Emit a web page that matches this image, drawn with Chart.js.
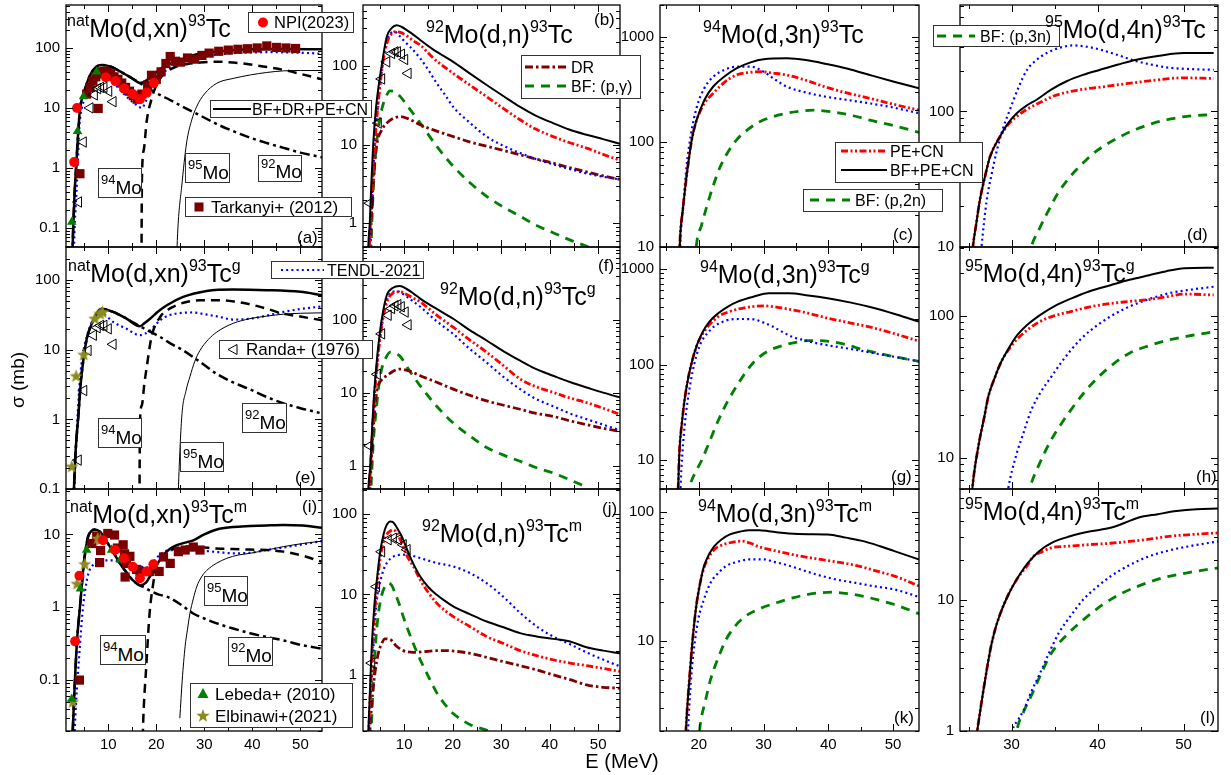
<!DOCTYPE html>
<html><head><meta charset="utf-8">
<script src="https://cdn.jsdelivr.net/npm/chart.js@4.4.1/dist/chart.umd.min.js"></script>
<style>
html,body{margin:0;padding:0;background:#fff;}
#wrap{position:relative;width:1231px;height:775px;overflow:hidden;background:#fff;}
.t{position:absolute;white-space:nowrap;line-height:1;font-family:"Liberation Sans",Arial,sans-serif;color:#000;}
.s{position:relative;}
.bx{position:absolute;box-sizing:border-box;border:1.5px solid #333;background:#fff;}
svg.m{position:absolute;overflow:visible;left:0;top:0;}
</style></head><body><div id="wrap"></div>
<script>
// ---------------- DATA (E in MeV, sigma in mb) ----------------
// (a) natMo(d,xn)93Tc
const a_E_tot=[2.5,2.7,3.0,3.3,3.7,4.1,4.6,5.1,6.2,7.6,8.6,10.4,13.1,15.0,16.6,18.0,20.1,22.2,24.2,27.7,32.6,39.6,46.5,54.5];
const a_tot=[0.03,0.1,0.4,1.0,3.5,9.5,15,20,35,49,52,49,38,31,26,29,40,52,59,76,87,95,96,95];
const a_E_94=[16.9,17.0,17.4,18.0,19.0,20.0,20.8,22.2,24.2,26.5,29.1,32.6,36,39.6,43,46.5,50,54.5];
const a_94=[0.01,0.6,2,6,14,24,31,40,49,54,57,59,57,53,48,43,37,30];
const a_E_92=[2.5,2.7,3.0,3.3,3.7,4.1,4.6,5.1,6.2,7.6,8.6,10.4,13.1,15.0,16.6,18,20.1,22.2,25,29.1,33,36,40,43,47,50,54.5];
const a_92=[0.03,0.1,0.4,1.0,3.5,9.5,15,20,35,49,52,49,38,31,26,22,17.5,14.5,11,7.5,5.2,4.1,3.1,2.6,2.1,1.8,1.5];
const a_E_95=[24.0,24.5,25.3,26.3,27.3,28.4,30,32.6,36,39.6,43,46.5,50,54.5];
const a_95=[0.01,0.1,0.5,2.6,6,10.5,17,25.8,31,35.5,39,41.5,42,42];
const a_E_ten=[2.8,3.0,3.5,4.0,4.5,5.2,6,7,8.5,10,12,14,16,17,18,19,20,22,24,26,28,30,33,36,40,44,48,52,54.5];
const a_ten=[0.03,0.1,0.6,5,10,15,22,32,38,33,22,15,11,10,14,22,30,42,52,60,67,72,78,82,84,85,84,82,80];
const a_npi_E=[2.9,3.5,9.5,11.5,13.3,15.1,16.6,18.0,19.5];
const a_npi=[1.25,10,32.5,28,21,17,14,18,26];
const a_tar_E=[4.1,5.5,6.2,6.8,7.4,7.9,8.0,8.6,9.2,9.8,10.5,11.2,12.0,12.8,13.6,14.4,15.2,16.0,17.0,18.2,19.0,20.0,21.0,22.0,22.9,24.0,25.0,26.5,28.0,29.5,31.0,33.0,35.0,37.0,39.0,41.0,43.0,45.0,47.0,49.0];
const a_tar=[0.8,17,22,28,33,9.8,37,40,41,39,37,33,30,26,22,19,16,14,17,24,35,30,40,55,72,60,58,68,65,75,82,88,92,95,97,100,108,102,100,98];
const a_ran_E=[3.8,4.8,6.2,7.1,7.8,8.4,9.1,10.1,11.0];
const a_ran=[0.27,2.7,10,16.5,21,22,22,19,12.7];
const a_leb_E=[2.4,3.6,4.85,7.6];
const a_leb=[0.125,4.1,15.5,40];

// (b) 92Mo(d,n)93Tc
const b_E_tot=[2.4,2.6,2.9,3.2,3.6,4.2,4.8,5.35,6.4,7.4,8.45,9.5,10.5,12,13.3,16,20.1,23.5,27,30.5,33.9,37,40.7,44,47.6,51,54.5];
const b_tot=[0.1,0.5,1,3,10,30,60,100,233,300,327,310,283,245,212,160,112,80,57,41,30,23.5,18.7,15.5,13.3,11.7,10.2];
const b_E_pe=[2.5,2.8,3.2,3.7,4.3,5,5.7,6.5,7.3,8.1,9.2,10.5,12,13.3,16,20.1,23.5,27,30.5,33.9,37,40.7,44,47.6,51,54.5];
const b_pe=[0.1,0.5,1.5,6,20,55,120,200,250,270,265,240,205,183,125,80,57,40.5,28.5,20.6,15.8,12.6,10.6,9,7.5,6.3];
const b_E_ten=[2.5,2.8,3.2,3.7,4.3,5,5.7,6.5,7.3,8.0,9.0,10,11.2,13.3,15,16.7,18.5,20.1,23.5,27,30.5,33.9,37,40.7,44,47.6,51,54.5];
const b_ten=[0.1,0.5,1.5,6,20,55,120,210,260,270,240,205,174,124,88,60,42,30,19,12.6,9.6,7.8,6.6,5.6,4.9,4.3,3.9,3.6];
const b_E_dr=[2.7,3.0,3.5,4.3,5.3,6.4,7.8,9.2,11,13.3,16.7,20.1,23.5,27,30.5,33.9,37,40.7,44,47.6,51,54.5];
const b_dr=[0.1,0.5,2.5,9.5,15,18.7,21.5,22.6,21,17.8,14.8,12.6,10.8,9.5,8.4,7.4,6.6,5.8,5.1,4.5,4.0,3.6];
const b_E_bf=[2.8,3.2,3.6,4.0,4.6,5.35,6.2,7.1,8.0,9.2,11,13.3,16.7,20.1,23.5,27,30.5,33.9,37,40.7,44,47.6,51];
const b_bf=[0.1,0.6,2.5,6.4,15,27.6,40,48,47,40.5,29,18.7,9.5,5.3,3.3,2.2,1.6,1.23,0.96,0.76,0.62,0.51,0.42];
const b_ran_E=[2.9,4.65,5.35,6.4,7.4,8.1,8.6,9.45,10.1,10.8];
const b_ran=[1.8,18.7,68,112,143,150,150,140,120,80];

// (c) 94Mo(d,3n)93Tc
const c_E_tot=[16.9,17.1,17.5,17.9,18.4,18.9,19.5,20.2,21,22.2,24,25.8,28,30,33.6,36.5,39.7,43,46.4,50,54];
const c_tot=[5,12,22,37,65,104,150,200,260,334,420,500,570,610,622,600,550,495,432,375,323];
const c_E_pe=[16.9,17.1,17.5,17.9,18.4,18.9,19.5,20.2,21,22.2,24,25.8,27.5,29.4,31.5,33.6,36.5,39.7,43,46.4,50,54];
const c_pe=[5,12,22,37,65,104,150,195,240,289,370,432,455,464,450,432,385,330,290,259,228,200];
const c_E_ten=[16.9,17.1,17.6,18.1,18.8,19.7,20.8,22.2,24,25.8,28.1,30,31.8,33.6,36.5,39.7,43,46.4,50,54];
const c_ten=[4,10,25,58,120,216,320,415,485,518,518,464,390,334,295,268,250,232,212,187];
const c_E_bf=[19.3,19.6,20.4,21.2,22.2,23.3,24.5,25.8,27.5,29.4,31.5,33.6,35.7,37.7,41.3,44,46.4,50,54];
const c_bf=[5,10,16,24,38,58,80,104,130,155,174,187,196,200,190,176,161,143,123];

// (d) 95Mo(d,4n)93Tc
const d_E_tot=[25.3,25.5,25.9,26.3,26.9,27.5,28.65,29.6,30.6,31.7,32.9,34.6,36.4,38.3,40.3,42.4,44.5,47.2,50,53.5];
const d_tot=[7,10,15,22,33,46.5,65.3,82,97,110,122,145,167,186,203,222,241,258,270,270];
const d_E_pe=[25.3,25.5,25.9,26.3,26.9,27.5,28.65,29.6,30.6,31.8,32.9,34.9,36.8,38.7,40.6,42.6,46,50,53.5];
const d_pe=[7,10,15,22,33,46.5,65,80,92,104,113,130,140,147,152,158,168,177,175];
const d_E_ten=[26.2,26.5,27.1,27.7,28.3,29.0,29.8,30.8,31.8,32.9,34.1,35.6,37.2,38.8,40.3,42.4,44.5,46.5,48.4,51,53.5];
const d_ten=[6,10,22,35,52,75,103,150,203,240,270,295,307,300,286,260,235,220,210,205,203];
const d_E_bf=[32.0,32.3,33.2,34.1,35.4,36.8,38.2,39.5,41,42.6,44.5,46.5,48.5,50.4,53.5];
const d_bf=[8,10,13.5,17.6,25,33,41,49,57,65,74,82,88,92,95];

// (e) natMo(d,xn)93Tcg
const e_E_tot=[2.6,2.85,3.2,3.75,4.3,4.8,5.3,5.8,6.9,8.6,11,13.8,16.6,17.5,18.7,20.5,22.2,25.6,30.5,36,43,50,54.5];
const e_tot=[0.03,0.1,0.35,1.08,3.5,7,12,17,26.6,39,35,28,21.8,24,28,36,43.7,57.5,70,73.5,72,68,61];
const e_E_94=[16.45,16.6,17.0,17.5,18,19,20.8,22.5,24.2,26.5,29.1,33.3,36.5,39.5,43,46.5,50,54.5];
const e_94=[0.01,0.9,1.6,3.2,5.6,15.3,29.6,38,43.7,49,51.5,51.5,49,45,39,33,30,26.6];
const e_E_92=[2.6,2.85,3.2,3.75,4.3,4.8,5.3,5.8,6.9,8.6,11,13.8,16.6,18.7,20.8,23,25.6,29.1,32.6,36,39.5,43,46.5,50,54];
const e_92=[0.03,0.1,0.35,1.08,3.5,7,12,17,26.6,39,35,28,21.8,18.2,15.3,12.3,9.8,6.7,4.5,3.4,2.7,2.1,1.7,1.45,1.24];
const e_E_95=[24.2,24.6,25.3,26.2,27,28,29.1,30.8,32.6,36,39.5,43,46.5,50,54.5];
const e_95=[0.01,0.1,1.08,2.6,4.1,6.8,9.8,14,18,24,28,30.5,32.5,33.5,34];
const e_E_ten=[2.8,3.1,3.5,4.0,4.5,5.0,5.8,6.8,8.3,9.5,11,13.8,16.6,18.7,20.8,22.5,24.2,27.7,30,32.6,36,39.5,43,46.5,50,54.5];
const e_ten=[0.05,0.2,0.8,3,7,11,18,27,35,31,25.2,20,16.2,19,26.6,31,33.2,34.4,32.5,30.3,27.2,28,31,35,38.5,42];
const e_elb_E=[2.4,3.3,4.9,7.2,8.3,8.8];
const e_elb=[0.21,4.2,8.5,28,33,35];
const e_ran_E=[3.75,4.9,5.8,6.9,7.7,8.4,9.1,10.0,11.0];
const e_ran=[0.26,2.6,9.8,16.2,20.8,22.4,22.4,20,12];

// (f) 92Mo(d,n)93Tcg
const f_E_tot=[2.4,2.6,3.0,3.4,3.8,4.4,4.9,5.35,6.4,7.6,9.1,10.5,12,13.3,16.7,20.1,23.5,27,30.5,33.9,37,40.7,44,47.6,51,54.5];
const f_tot=[0.2,0.5,1,3.5,10,30,60,100,215,270,287,262,225,194,140,103,72,52,37,27.6,21.5,17.2,14.2,11.9,10.1,8.7];
const f_E_pe=[2.5,2.8,3.2,3.7,4.3,5.0,5.7,6.5,7.5,8.5,9.1,10.5,12,13.3,16.7,20.1,23.5,27,30.5,33.9,37,40.7,44,47.6,51,54.5];
const f_pe=[0.2,0.5,1.5,6,20,55,110,180,225,240,240,220,195,175,115,79,53,36,23.5,15.5,12.3,10.2,8.6,7.4,6.2,5.1];
const f_E_ten=[2.5,2.8,3.2,3.7,4.3,5.0,5.7,6.5,7.4,8.4,9.5,11,13.3,16.7,20.1,23.5,27,30.5,33.9,37,40.7,44,47.6,51,54.5];
const f_ten=[0.2,0.5,1.5,6,20,55,115,190,235,245,230,195,150,95,64,40,26,16.5,11.3,8.4,6.6,5.3,4.4,3.7,3.1];
const f_E_dr=[2.7,3.0,3.5,4.3,5.3,6.4,7.8,9.1,11,13.3,16.7,20.1,23.5,27,30.5,33.9,37,40.7,44,47.6,51,54.5];
const f_dr=[0.2,0.6,2.5,10,15,17.2,20,21.2,20,17.2,14,11.3,9.3,7.8,6.8,6.0,5.3,4.8,4.2,3.7,3.3,3.0];
const f_E_bf=[2.8,3.2,3.6,4.3,4.8,5.35,6.2,7.1,8.0,9.1,11,13.3,16.7,20.1,23.5,27,30.5,33.9,37,40.7,44,47.6];
const f_bf=[0.2,0.6,2,6.6,13,21.2,30,36,35,32,20.5,12.5,6.6,3.9,2.6,1.8,1.42,1.17,0.97,0.81,0.66,0.52];
const f_ran_E=[2.9,4.45,5.35,6.7,7.4,8.1,8.7,9.4,10.2,10.8];
const f_ran=[1.9,18,64,115,142,155,160,150,127,85];

// (g) 94Mo(d,3n)93Tcg
const g_E_tot=[16.8,17.0,17.4,17.8,18.4,19,19.7,20.5,21.6,23,24.5,26,28.5,30.8,33.9,36.9,39.9,43.5,47.2,50.5,54];
const g_tot=[5,12.4,25,43,75,112,160,213,280,345,405,456,515,557,557,530,495,445,389,335,282];
const g_E_pe=[16.8,17.0,17.4,17.8,18.4,19,19.7,20.5,21.6,23,24.5,26,28,30.2,32,33.9,36.9,39.9,43.5,47.2,50.5,54];
const g_pe=[5,12.4,25,43,75,112,160,205,260,318,355,380,403,411,400,380,345,306,272,240,208,176];
const g_E_ten=[17.1,17.3,17.8,18.7,19.9,21.8,24.2,26.3,28.4,30,31.4,32.9,34.5,36.3,38.1,41,44.2,47.5,51,54];
const g_ten=[4,8,22.6,64,143,231,289,300,298,275,250,220,194,180,168,155,143,130,118,108];
const g_E_bf=[18.4,18.7,19.5,20.5,21.7,23,24.5,26,27.5,29,31,33.3,35,36.9,38.7,40.5,43,45.4,49,54];
const g_bf=[4,5.5,7.5,10.2,16,26,42,62,88,115,142,161,171,178,178,174,160,143,126,108];

// (h) 95Mo(d,4n)93Tcg
const h_E_tot=[25.2,25.5,26.2,26.8,27.3,28,28.7,29.6,30.5,31.8,33.3,35,36.9,39,41.5,43.7,46,48,50.1,53.5];
const h_tot=[4,6.6,12.6,19,27,36,46,58,71,86,101,117,132,148,164,179,193,206,216,218];
const h_E_pe=[25.2,25.5,26.2,26.8,27.3,28,28.7,29.6,30.5,31.8,33.3,35,36.9,39,41.5,43.7,46,48,50.1,53.5];
const h_pe=[4,6.6,12.6,19,27,36,46,57,67,79,91,100,107,115,122,126,130,136,142,140];
const h_E_ten=[29.2,29.6,30.5,31.4,32.3,33.4,34.6,35.8,36.9,38,39.2,41.4,43.7,46,48.3,51,53.5];
const h_ten=[4,6,10.2,15,21.7,29,37,47,57.3,68,79,98,116,131,144,153,160];
const h_E_bf=[31.5,32.1,33.3,34.6,35.8,36.9,38.5,40.1,41.9,43.7,46,48.3,50.9,53.5];
const h_bf=[4,6,9.2,13.3,17.4,21.7,29,37,46,54.4,61.5,67.5,72.5,77];

// (i) natMo(d,xn)93Tcm
const i_E_tot=[2.6,3.06,3.5,4.1,4.5,4.9,5.3,5.8,6.4,7.2,8.3,9.3,10.35,11.4,12.4,13.5,14.5,15.6,16.6,17.9,18.6,19.4,20.4,21.5,22.8,24.25,26,27.7,30,32.6,36,39.5,43,46.5,50.5,54.5];
const i_tot=[0.02,0.1,0.35,1.0,2.0,4,6.2,9.3,11,11.7,10.8,8.6,6.8,5.2,4,3.2,2.6,2.2,2.0,2.2,2.6,3.1,4.1,5.2,6.3,7.1,7.7,8.3,10,11.7,12.6,13,13.3,13.5,13.2,12.3];
const i_E_94=[17.1,17.3,17.9,18.6,19.3,20,21,22.2,24,26.3,29,32.6,36,39.5,43,46.5,50.5,54.5];
const i_94=[0.01,0.03,0.15,0.82,2,3.6,4.8,5.8,6.4,6.8,6.7,6.4,6.3,6.2,6.1,5.8,5.1,4.2];
const i_E_92=[2.6,3.06,3.5,4.1,4.5,4.9,5.3,5.8,6.4,7.2,8.3,9.3,10.35,11.4,12.4,13.5,14.5,15.6,16.6,17.6,18.6,20.4,22.2,25,27.7,30,32.6,36,39.5,43,46.5,50.5,54.5];
const i_92=[0.02,0.1,0.35,1.0,2.0,4,6.2,9.3,11,11.7,10.8,8.6,6.8,5.2,4,3.2,2.6,2.2,2.0,1.85,1.7,1.5,1.4,1.1,0.82,0.7,0.6,0.51,0.44,0.39,0.35,0.3,0.27];
const i_E_95=[24.9,25.4,26.0,26.5,27.0,27.7,28.4,29.4,30.5,32.5,34.7,37,39.5,43,46.5,50.5,54.5];
const i_95=[0.03,0.1,0.29,0.5,0.82,1.3,1.9,2.6,3.2,4.0,4.7,5.2,5.5,6.1,6.8,7.5,8.1];
const i_E_ten=[3.0,3.3,3.6,4.1,4.6,5.1,5.8,6.8,8.4,11,13,15.1,17,18,19,20,21,22.2,25,29.1,33,36,39.5,43,47,50.5,54.5];
const i_ten=[0.02,0.05,0.1,0.3,0.8,1.55,2.8,3.8,4.4,4.4,4.1,3.8,3.6,3.5,3.8,4.7,5.4,6.0,6.1,6.0,5.7,5.5,5.6,6.1,6.7,7.3,8.1];
const i_npi_E=[3.1,4.0,8.9,11.4,13.3,15.1,16.6,18.0,19.4];
const i_npi=[0.34,2.7,8.3,6.1,4.7,3.6,2.5,3.1,3.9];
const i_tar_E=[4.0,6.6,7.6,8.2,8.4,9.9,11.3,11.9,13.1,13.4,13.5,13.8,14.5,15.9,16.6,18.6,20.6,21.5,22.9,24.6,26.0,27.7,29.1];
const i_tar=[0.1,7.5,9.5,4.1,6.0,10.3,9.8,6.5,7.2,5.4,2.6,4.0,5.0,3.3,3.1,3.1,3.1,4.9,4.0,5.8,6.1,6.7,6.1];
const i_leb_E=[2.4,4.2,5.5,10.7,12.5];
const i_leb=[0.055,1.8,6.1,6.1,4.5];
const i_elb_E=[2.6,3.5,5.1,7.8,8.4];
const i_elb=[0.05,2.1,3.9,8.8,8.5];

// (j) 92Mo(d,n)93Tcm
const j_E_tot=[2.4,2.6,3.0,3.3,3.7,4.0,4.5,5.0,5.5,6.0,6.5,7.1,7.6,8.1,8.8,9.5,10.3,11.2,12.2,13.3,15,16.7,18.4,20.1,23.5,27,30.5,33.9,37.3,40.7,44.2,47.6,51,54.5];
const j_tot=[0.1,0.2,0.8,2.2,5.5,9.4,18,32.7,48,63.7,75,81,80,74,63,52.6,40,29.6,22,16.7,12.3,9.9,8.3,7.1,5.7,4.6,3.9,3.3,3.0,2.8,2.6,2.2,2.0,1.85];
const j_E_pe=[2.5,2.8,3.2,3.6,4.0,4.5,5.0,5.5,6.0,6.6,7.2,7.75,8.5,9.5,10.6,11.9,13.3,15,16.7,18.4,20.1,23.5,27,30.5,33.9,37.3,40.7,44.2,47.6,51,54.5];
const j_pe=[0.1,0.3,1,3,7,15,27,40,50,58,62,64,58,43.6,30,22.3,15.2,10.5,7.8,6.3,5.3,4.0,3.0,2.45,2.0,1.73,1.54,1.4,1.3,1.2,1.1];
const j_E_ten=[2.6,3.0,3.5,4.0,4.5,5.0,5.7,6.5,7.75,9,10.5,13.3,16.7,20.1,23.6,27,30.4,33.9,37.3,40.7,44.2,47.6,51,54.5];
const j_ten=[0.1,0.4,1.5,5,10,14,20,25,29.6,31,31.2,28.3,24.6,22.3,18.4,13.8,9.4,5.9,4.0,3.0,2.4,1.9,1.55,1.27];
const j_E_dr=[2.8,3.1,3.5,4.0,4.7,5.3,6.0,7.1,8.3,9.8,11.9,14.6,16.7,18.7,21,23.6,27,30.4,33.9,37.3,40.7,44.2,47.6,51,54.5];
const j_dr=[0.15,0.3,0.6,1.1,1.9,2.4,2.8,2.75,2.3,2.0,1.9,1.95,2.0,2.0,1.95,1.85,1.65,1.46,1.3,1.15,1.0,0.87,0.75,0.7,0.68];
const j_E_bf=[3.0,3.4,3.8,4.2,4.7,5.3,6.0,6.7,7.4,8.1,9.0,9.8,11.5,13.3,15,16.7,18.4,20.1,23.6,27.5,30];
const j_bf=[0.1,0.4,1.2,3,5.9,9.5,12.5,13.8,13,10.4,7.5,5.3,2.8,1.54,0.95,0.6,0.43,0.33,0.24,0.2,0.17];
const j_ran_E=[3.3,4.3,5.35,6.7,7.75,8.8,9.8,10.6];
const j_ran=[1.4,12.5,34,48,50,48,41.5,36];

// (k) 94Mo(d,3n)93Tcm
const k_E_tot=[17.8,18.0,18.3,18.7,19.1,19.6,20.2,20.8,21.6,22.4,23.5,24.8,26.3,27.8,29.3,30.8,32.3,33.9,36.9,39.9,42.7,45.4,48,50.2,54.3];
const k_tot=[1,2,3.5,6.4,11,18.6,28,37.9,47,54.1,61,66.7,70,72,72,70.7,69,67.8,67,66.7,63,59.2,54,49.5,42.2];
const k_E_pe=[17.8,18.0,18.3,18.7,19.1,19.6,20.2,20.8,21.6,22.4,23.5,24.8,26.6,28,29,30.5,32,35,38.1,41,44.2,47.2,50.2,54.3];
const k_pe=[1,2,3.5,6.4,11,18.6,28,37,45,51,55,57.5,59.2,57,54.1,51.5,49.5,46,43.2,41,38.4,35,31.7,26.2];
const k_E_ten=[18.2,18.5,19,19.4,19.9,20.8,21.8,23,24.2,26,27.8,30.2,31.5,33.3,35.5,38.1,41,44.2,47,50.2,54.3];
const k_ten=[1.5,3,6.7,10,14.6,21,28.1,33.5,37.9,41,42.7,42.7,41,39,36,32.7,30,28.1,26.5,25,21.6];
const k_E_bf=[19.9,20.2,21,21.8,23,24.2,25.5,27.2,29.5,32,34.5,36.9,38.5,40.5,43,45.4,48,50.2,54.3];
const k_bf=[1.5,2.2,3.4,5,7.4,10.2,12.8,15.5,17.8,19.7,21.5,22.9,23.5,23.8,23.2,22.1,20.5,19.1,16];

// (l) 95Mo(d,4n)93Tcm
const l_E_tot=[25.8,26.0,26.6,27.1,27.6,28.1,28.7,29.4,30.1,31,31.9,33.2,34.6,36.8,39.2,41.5,43.1,44.7,47,49.2,51.5,54];
const l_tot=[0.8,1.0,1.82,2.9,4.4,6.0,7.9,10.2,12.6,15.8,19.1,23.5,27.1,30.5,33.3,35.4,38.5,42.3,45,47.5,49,49.6];
const l_E_pe=[25.8,26.0,26.6,27.1,27.6,28.1,28.7,29.4,30.1,31,31.9,32.4,33.5,34.6,36.8,39.2,41.5,43.7,46,48.3,51,54];
const l_pe=[0.8,1.0,1.82,2.9,4.4,6.0,7.9,10.2,12.6,15.6,18.5,21,23.2,24.9,25.7,26.4,27.0,27.9,29,30.5,31.5,32.4];
const l_E_ten=[29.9,30.1,30.7,31.4,32.3,33.3,34.4,35.5,36.9,38.3,39.9,41.5,43.7,46,48.3,50.6,54];
const l_ten=[0.8,1.0,1.2,1.44,2.0,2.75,4.0,5.6,7.6,10,12.5,15.1,18.4,21.5,23.8,25.6,27.9];
const l_E_bf=[30.4,30.6,31.4,32.4,33.5,34.6,36.4,38.3,40.5,42.8,45.1,47.4,50.7,54];
const l_bf=[0.8,1.0,1.4,1.93,2.8,3.9,5.4,7.0,9.1,11.2,13,14.6,16.2,17.5];

// tick labels
const yt_a=[0.1,1,10,100], yt_b=[1,10,100], yt_c=[10,100,1000], yt_d=[10,100];
const yt_e=[0.1,1,10,100], yt_f=[1,10,100], yt_g=[10,100,1000], yt_h=[10,100];
const yt_i=[0.1,1,10], yt_j=[1,10,100], yt_k=[10,100], yt_l=[1,10];
const xt_1=[10,20,30,40,50], xt_2=[10,20,30,40,50], xt_3=[20,30,40,50], xt_4=[30,40,50];

// ---------------- LAYOUT ----------------
const wrap=document.getElementById('wrap');
const FONT='"Liberation Sans", Arial, sans-serif';
const COLS=[[66,322],[363,620],[660,919],[960,1218]];
const ROWS=[[5,247],[247,489],[489,731]];
const LEFT=60, PAD=16, BOT=42;

function pts(E,V){return E.map((e,i)=>({x:e,y:V[i]}));}
const ST={
  tot:{borderColor:'#000',borderWidth:2},
  tot1:{borderColor:'#000',borderWidth:2.5},
  d94:{borderColor:'#000',borderWidth:2.5,borderDash:[9,6]},
  d92:{borderColor:'#000',borderWidth:2.5,borderDash:[10,4,3,4]},
  d95:{borderColor:'#000',borderWidth:1},
  pe:{borderColor:'#ff0000',borderWidth:2.8,borderDash:[7,2.5,2,2.5,2,2.5]},
  ten:{borderColor:'#0000ff',borderWidth:2.2,borderDash:[2,3.2]},
  dr:{borderColor:'#800000',borderWidth:2.8,borderDash:[8,3,2.5,3]},
  bf:{borderColor:'#008000',borderWidth:2.8,borderDash:[9,7]}
};
const starImg=document.createElement('canvas');starImg.width=15;starImg.height=15;
(function(){const c=starImg.getContext('2d');c.fillStyle='#8c8c1c';c.beginPath();
 for(let k=0;k<10;k++){const r=k%2?2.9:7;const a=-Math.PI/2+k*Math.PI/5;const px=7.5+r*Math.cos(a),py=7.8+r*Math.sin(a);k?c.lineTo(px,py):c.moveTo(px,py);}c.closePath();c.fill();})();
const MK={
  npi:{pointStyle:'circle',pointRadius:5,pointBackgroundColor:'#ff0000',pointBorderColor:'#ff0000',pointBorderWidth:0},
  tar:{pointStyle:'rect',pointRadius:6.5,pointBackgroundColor:'#7a0000',pointBorderColor:'#7a0000',pointBorderWidth:0},
  ran:{pointStyle:'triangle',pointRadius:6,pointRotation:-90,pointBackgroundColor:'rgba(255,255,255,0)',pointBorderColor:'#000',pointBorderWidth:1},
  leb:{pointStyle:'triangle',pointRadius:5.5,pointBackgroundColor:'#008000',pointBorderColor:'#008000',pointBorderWidth:0},
  elb:{pointStyle:starImg,pointRadius:6}
};
function L(E,V,st){return Object.assign({data:pts(E,V),showLine:true,pointRadius:0,pointHoverRadius:0,fill:false,cubicInterpolationMode:'monotone',borderCapStyle:'butt',borderJoinStyle:'round'},ST[st]);}
function M(E,V,mk){return Object.assign({data:pts(E,V),showLine:false},MK[mk]);}

const frame={id:'frame',afterDatasetsDraw(chart){
  const {ctx,chartArea:a,scales:{x,y}}=chart;
  ctx.save();ctx.strokeStyle='#000';ctx.lineWidth=1.3;
  ctx.strokeRect(a.left,a.top,a.right-a.left,a.bottom-a.top);
  ctx.lineWidth=1;ctx.beginPath();
  const d0=Math.floor(Math.log10(y.min)),d1=Math.ceil(Math.log10(y.max));
  for(let d=d0;d<=d1;d++)for(let m=1;m<10;m++){const v=m*Math.pow(10,d);if(v<y.min||v>y.max)continue;
    const py=Math.round(y.getPixelForValue(v))+0.5;const len=m===1?7:4;
    ctx.moveTo(a.left,py);ctx.lineTo(a.left+len,py);ctx.moveTo(a.right,py);ctx.lineTo(a.right-len,py);}
  for(let v=Math.ceil(x.min/5)*5;v<=x.max;v+=5){const px=Math.round(x.getPixelForValue(v))+0.5;const len=(v%10===0)?7:4;
    ctx.moveTo(px,a.bottom);ctx.lineTo(px,a.bottom-len);ctx.moveTo(px,a.top);ctx.lineTo(px,a.top+len);}
  ctx.stroke();ctx.restore();}};

function panel(col,row,xr,yr,yt,xt,sets){
  const [cl,cr]=COLS[col],[rt,rb]=ROWS[row];const bottom=row===2;
  const w=cr-cl+LEFT+PAD,h=rb-rt+PAD+(bottom?BOT:PAD);
  const cv=document.createElement('canvas');cv.width=w;cv.height=h;
  cv.style.cssText=`position:absolute;left:${cl-LEFT}px;top:${rt-PAD}px;width:${w}px;height:${h}px`;
  wrap.appendChild(cv);
  new Chart(cv,{type:'line',data:{datasets:sets},options:{responsive:false,animation:false,devicePixelRatio:1,events:[],
    layout:{padding:{left:0,top:PAD,right:PAD,bottom:0}},
    plugins:{legend:{display:false},tooltip:{enabled:false}},
    scales:{
      x:{type:'linear',min:xr[0],max:xr[1],grid:{display:false,drawTicks:false},border:{display:false},
        ticks:{display:bottom,color:'#000',font:{family:FONT,size:15},padding:5,maxRotation:0,autoSkip:false},
        afterBuildTicks:s=>{s.ticks=(xt||[]).map(v=>({value:v}));},
        afterFit:s=>{s.height=bottom?BOT:PAD;}},
      y:{type:'logarithmic',min:yr[0],max:yr[1],grid:{display:false,drawTicks:false},border:{display:false},
        ticks:{color:'#000',font:{family:FONT,size:15},padding:6,autoSkip:false,callback:v=>String(v)},
        afterBuildTicks:s=>{s.ticks=yt.map(v=>({value:v}));},
        afterFit:s=>{s.width=LEFT;}}
    }},plugins:[frame]});
}
const X1=[1.2,54.5],X2=[1.5,54.5],X3=[14,54],X4=[24,54];
// row 1
panel(0,0,X1,[0.048,520],yt_a,null,[M(a_npi_E,a_npi,'npi'),M(a_leb_E,a_leb,'leb'),M(a_ran_E,a_ran,'ran'),M(a_tar_E,a_tar,'tar'),
  L(a_E_tot,a_tot,'tot1'),L(a_E_95,a_95,'d95'),L(a_E_94,a_94,'d94'),L(a_E_92,a_92,'d92'),L(a_E_ten,a_ten,'ten')]);
panel(1,0,X2,[0.5,590],yt_b,null,[M(b_ran_E,b_ran,'ran'),L(b_E_tot,b_tot,'tot'),L(b_E_pe,b_pe,'pe'),L(b_E_ten,b_ten,'ten'),L(b_E_dr,b_dr,'dr'),L(b_E_bf,b_bf,'bf')]);
panel(2,0,X3,[10,2000],yt_c,null,[L(c_E_tot,c_tot,'tot'),L(c_E_pe,c_pe,'pe'),L(c_E_ten,c_ten,'ten'),L(c_E_bf,c_bf,'bf')]);
panel(3,0,X4,[10,610],yt_d,null,[L(d_E_tot,d_tot,'tot'),L(d_E_pe,d_pe,'pe'),L(d_E_ten,d_ten,'ten'),L(d_E_bf,d_bf,'bf')]);
// row 2
panel(0,1,X1,[0.1,300],yt_e,null,[M(e_elb_E,e_elb,'elb'),M(e_ran_E,e_ran,'ran'),
  L(e_E_tot,e_tot,'tot1'),L(e_E_95,e_95,'d95'),L(e_E_94,e_94,'d94'),L(e_E_92,e_92,'d92'),L(e_E_ten,e_ten,'ten')]);
panel(1,1,X2,[0.49,980],yt_f,null,[M(f_ran_E,f_ran,'ran'),L(f_E_tot,f_tot,'tot'),L(f_E_pe,f_pe,'pe'),L(f_E_ten,f_ten,'ten'),L(f_E_dr,f_dr,'dr'),L(f_E_bf,f_bf,'bf')]);
panel(2,1,X3,[5,1700],yt_g,null,[L(g_E_tot,g_tot,'tot'),L(g_E_pe,g_pe,'pe'),L(g_E_ten,g_ten,'ten'),L(g_E_bf,g_bf,'bf')]);
panel(3,1,X4,[6,305],yt_h,null,[L(h_E_tot,h_tot,'tot'),L(h_E_pe,h_pe,'pe'),L(h_E_ten,h_ten,'ten'),L(h_E_bf,h_bf,'bf')]);
// row 3
panel(0,2,X1,[0.02,42],yt_i,xt_1,[M(i_npi_E,i_npi,'npi'),M(i_leb_E,i_leb,'leb'),M(i_elb_E,i_elb,'elb'),M(i_tar_E,i_tar,'tar'),
  L(i_E_tot,i_tot,'tot1'),L(i_E_95,i_95,'d95'),L(i_E_94,i_94,'d94'),L(i_E_92,i_92,'d92'),L(i_E_ten,i_ten,'ten')]);
panel(1,2,X2,[0.2,205],yt_j,xt_2,[M(j_ran_E,j_ran,'ran'),L(j_E_tot,j_tot,'tot'),L(j_E_pe,j_pe,'pe'),L(j_E_ten,j_ten,'ten'),L(j_E_dr,j_dr,'dr'),L(j_E_bf,j_bf,'bf')]);
panel(2,2,X3,[2,150],yt_k,xt_3,[L(k_E_tot,k_tot,'tot'),L(k_E_pe,k_pe,'pe'),L(k_E_ten,k_ten,'ten'),L(k_E_bf,k_bf,'bf')]);
panel(3,2,X4,[1,70],yt_l,xt_4,[L(l_E_tot,l_tot,'tot'),L(l_E_pe,l_pe,'pe'),L(l_E_ten,l_ten,'ten'),L(l_E_bf,l_bf,'bf')]);

// ---------------- ANNOTATIONS (HTML text) ----------------
function txt(x,base,html,size,extra){const d=document.createElement('div');d.className='t';
  d.style.cssText=`left:${x}px;top:${(base-0.8465*size).toFixed(1)}px;font-size:${size}px;`+(extra||'');d.innerHTML=html;wrap.appendChild(d);return d;}
function box(x1,y1,x2,y2){const d=document.createElement('div');d.className='bx';
  d.style.cssText=`left:${x1}px;top:${y1}px;width:${x2-x1}px;height:${y2-y1}px;`;wrap.appendChild(d);}
const SVGNS='http://www.w3.org/2000/svg';
const svg=document.createElementNS(SVGNS,'svg');svg.setAttribute('class','m');svg.setAttribute('width','1231');svg.setAttribute('height','775');
function sv(tag,attrs){const e=document.createElementNS(SVGNS,tag);for(const k in attrs)e.setAttribute(k,attrs[k]);svg.appendChild(e);}
function lineS(x1,x2,y,st){const s=ST[st];sv('line',{x1,x2,y1:y,y2:y,stroke:s.borderColor,'stroke-width':s.borderWidth,'stroke-dasharray':(s.borderDash||[]).join(' ')});}
const sup=(t,sz,up)=>`<span class="s" style="font-size:${sz}px;top:-${up}px">${t}</span>`;
function iso(x1,y1,x2,y2,A){box(x1,y1,x2,y2);txt(x1+3,y2-4,sup(A,13,10)+'Mo',19);}
function title(x,base,pre,main,post){txt(x,base,sup(pre,16,11)+main+sup('93',16,11)+'Tc'+(post?sup(post,16,11):''),25);}

// panel a
box(248,12,354,33); box(210,100,372,118); box(185,197,352,217);
iso(98,168,142,198,'94'); iso(185,153,230,183,'95'); iso(258,155,302,182,'92');
// panel b
box(521,55,641,99);
// panel c
box(835,142,983,183); box(803,189,943,212);
// panel d
box(933,25,1060,47);
// panel e
box(271,261,424,279); box(219,340,373,359);
iso(98,418,142,448,'94'); iso(180,442,224,472,'95'); iso(242,403,287,433,'92');
// panel i
box(190,683,353,728);
iso(100,635,146,665,'94'); iso(204,576,248,606,'95'); iso(228,637,273,666,'92');

wrap.appendChild(svg);
// legend samples
sv('circle',{cx:263,cy:22.5,r:5,fill:'#ff0000'});
lineS(213,251,109,'tot');
sv('rect',{x:194.5,y:202.5,width:9,height:9,fill:'#7a0000'});
lineS(525,568,67,'dr'); lineS(525,568,86,'bf');
lineS(841,887,151,'pe'); lineS(841,887,170,'tot');
lineS(810,850,200,'bf');
lineS(937,975,36,'bf');
lineS(281,324,270,'ten');
sv('polygon',{points:'228,349.5 237,344.5 237,354.5',fill:'none',stroke:'#000','stroke-width':1});
sv('polygon',{points:'203,688 197.5,698 208.5,698',fill:'#008000'});
(function(){let p=[];for(let k=0;k<10;k++){const r=k%2?2.9:7;const a=-Math.PI/2+k*Math.PI/5;p.push((203+r*Math.cos(a)).toFixed(1)+','+(716+r*Math.sin(a)).toFixed(1));}sv('polygon',{points:p.join(' '),fill:'#8c8c1c'});})();

// legend texts
txt(274,28,'NPI(2023)',16.5);
txt(252,115,'BF+DR+PE+CN',16);
txt(211,213,'Tarkanyi+ (2012)',17);
txt(571,73,'DR',16); txt(571,92,'BF: (p,γ)',16);
txt(890,157,'PE+CN',16); txt(890,176,'BF+PE+CN',16);
txt(855,206,'BF: (p,2n)',16);
txt(980,42,'BF: (p,3n)',16);
txt(327,276,'TENDL-2021',16);
txt(246,355.5,'Randa+ (1976)',17);
txt(215,700,'Lebeda+ (2010)',17);
txt(215,722,'Elbinawi+(2021)',17);
// titles
title(67,37,'nat','Mo(d,xn)','');
title(426,43,'92','Mo(d,n)','');
title(703,43,'94','Mo(d,3n)','');
title(1045,38,'95','Mo(d,4n)','');
title(68,282,'nat','Mo(d,xn)','g');
title(440,305,'92','Mo(d,n)','g');
title(700,283,'94','Mo(d,3n)','g');
title(965,282,'95','Mo(d,4n)','g');
title(70,523,'nat','Mo(d,xn)','m');
title(422,542,'92','Mo(d,n)','m');
title(698,522,'94','Mo(d,3n)','m');
title(965,520,'95','Mo(d,4n)','m');
// panel letters
txt(297,243,'(a)',17); txt(594,25,'(b)',17); txt(893,240,'(c)',17); txt(1187,240,'(d)',17);
txt(295,483,'(e)',17); txt(598,271,'(f)',17); txt(891,482,'(g)',17); txt(1196,482,'(h)',17);
txt(302,512,'(i)',17); txt(602,514,'(j)',17); txt(894,723,'(k)',17); txt(1200,723,'(l)',17);
// axis titles
txt(622,768,'E (MeV)',20,'transform:translateX(-50%);');
txt(8,396,'σ (mb)',19,'transform-origin:0 0;transform:rotate(-90deg) translateX(-50%);');
</script></body></html>
